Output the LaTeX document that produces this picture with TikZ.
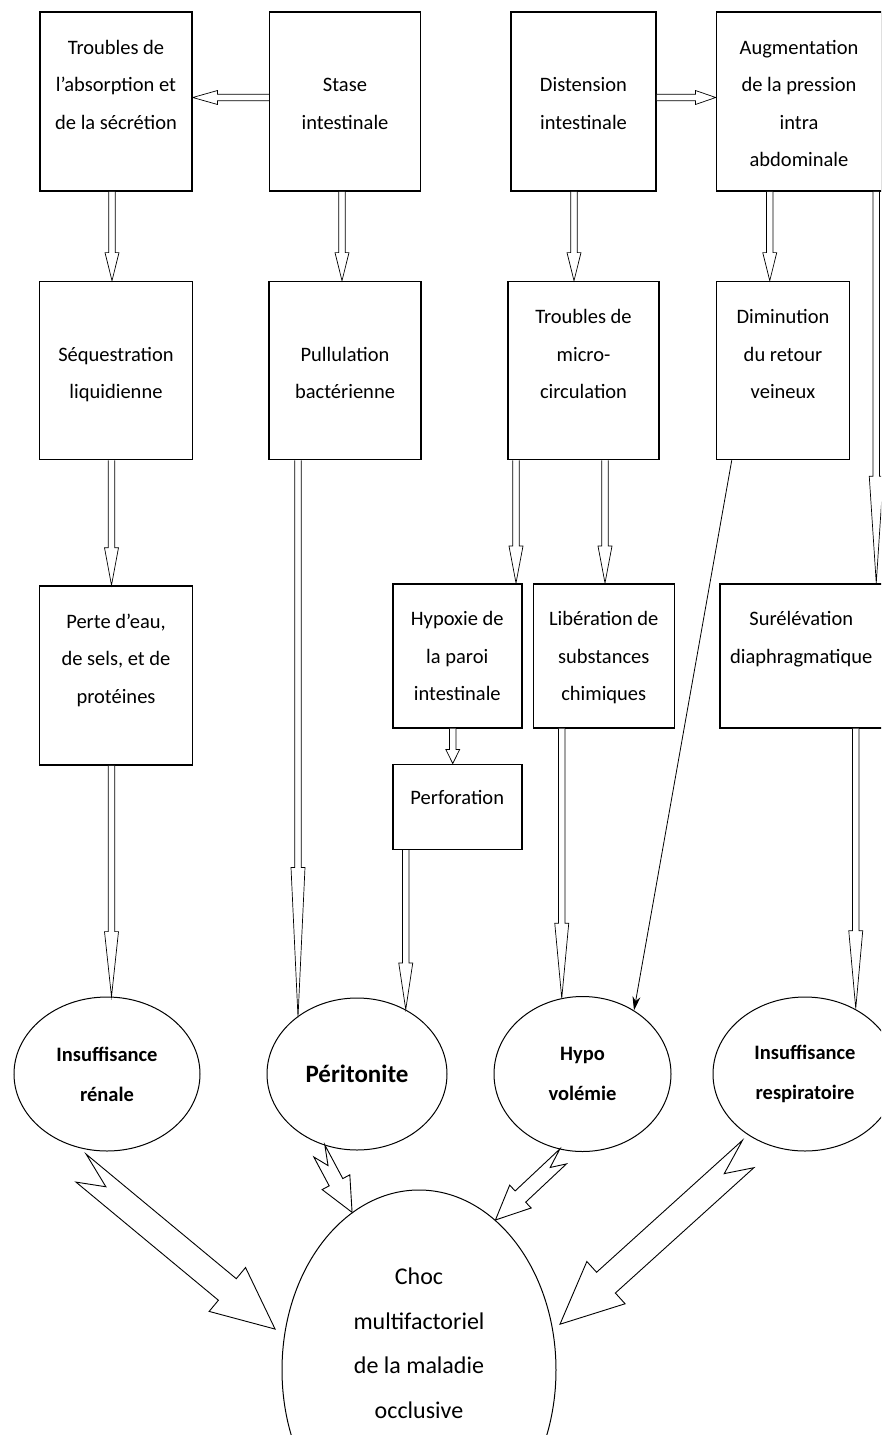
\documentclass[tikz,border=0pt]{standalone}
\usepackage{fontspec}
\setmainfont{Carlito}
\usetikzlibrary{arrows.meta,positioning,calc,shapes.geometric}

\tikzset{
  hol/.style={to path={let \p1=(\tikztostart), \p2=(\tikztotarget),
      \n1={atan2(\y2-\y1,\x2-\x1)}, \n2={veclen(\x2-\x1,\y2-\y1)}, \n3={0.74*\n2-5pt}
    in ($(\p1)+({\n1+90}:3.2pt)$) -- ($(\p1)+(\n1:\n3)+({\n1+90}:3.2pt)$)
    -- ($(\p1)+(\n1:\n3)+({\n1+90}:7pt)$) -- (\p2)
    -- ($(\p1)+(\n1:\n3)+({\n1-90}:7pt)$) -- ($(\p1)+(\n1:\n3)+({\n1-90}:3.2pt)$)
    -- ($(\p1)+({\n1-90}:3.2pt)$)}},
  zig/.style 2 args={to path={let \p1=(\tikztostart), \p2=(\tikztotarget),
      \n1={atan2(\y2-\y1,\x2-\x1)},
      \p3=($(\p1)+({\n1+(#1)}:{14pt*#2})$),
      \n2={veclen(\x2-\x3,\y2-\y3)}, \n4={atan2(\y2-\y3,\x2-\x3)},
      \n5={\n4+(#1)}, \n6={14pt*#2}, \n7={28.5pt*#2}, \n8={\n2-62pt*#2}
    in ($(\p3)+(\n5:-\n6)$)
    -- ($(\p3)+(\n4:{36pt*#2})+(\n5:{-1.5pt*#2})$)
    -- ($(\p3)+(\n4:{10pt*#2})+(\n5:\n6)$)
    -- ($(\p3)+(\n4:\n8)+(\n5:\n6)$)
    -- ($(\p3)+(\n4:\n8)+(\n5:\n7)$)
    -- (\p2)
    -- ($(\p3)+(\n4:\n8)+(\n5:-\n7)$)
    -- ($(\p3)+(\n4:\n8)+(\n5:-\n6)$)
    -- cycle}}
}

\begin{document}
\begin{tikzpicture}[>={Stealth[length=14pt,width=8pt]}, x=1pt, y=1pt,
    boite/.style={draw, line width=1.5pt, align=center, inner sep=0pt, text height=117pt,
      font=\fontsize{20.5}{37.5}\selectfont},
    bulle/.style={draw, ellipse, line width=1pt, inner sep=0pt, minimum height=154pt,
      align=center, font=\bfseries\fontsize{20.5}{40}\selectfont},
    creux/.style={draw, fill=white, line width=0.7pt},
    grosse/.style={draw, fill=white, line width=0.9pt, line join=miter}]
  \path[fill=white, use as bounding box] (0,0) rectangle (881,-1435);
  \clip (0,0) rectangle (881,-1435);

  \node[boite, minimum width=152pt, text depth=62pt] (absorp) at (116,-101.5) {Troubles de\\l’absorption et\\de la sécrétion};
  \node[boite, minimum width=151pt, text depth=62pt] (stase) [right=76pt of absorp] {Stase\\intestinale};
  \node[boite, minimum width=145pt, text depth=62pt] (dist) [right=89pt of stase] {Distension\\intestinale};
  \node[boite, minimum width=165pt, text height=154.5pt, text depth=24.5pt] (augm) [right=59pt of dist] {Augmentation\\de la pression\\intra\\abdominale};

  \node[boite, minimum width=153pt, text depth=61pt] (sequ) [below=89pt of absorp] {Séquestration\\liquidienne};
  \node[boite, minimum width=152pt, text depth=61pt] (pull) [below=89pt of stase] {Pullulation\\bactérienne};
  \node[boite, minimum width=151pt, text depth=61pt] (micro) [below=89pt of dist] {Troubles de\\micro-\\circulation};
  \node[boite, minimum width=133pt, text depth=61pt] (dimin) [below=89pt of augm.south west, anchor=north west] {Diminution\\du retour\\veineux};

  \node[boite, minimum width=153pt, text depth=62pt] (perte) [below=125pt of sequ] {Perte d’eau,\\de sels, et de\\protéines};
  \node[boite, minimum width=129pt, text depth=27pt, anchor=north west] (hypox) at (392,-583) {Hypoxie de\\la paroi\\intestinale};
  \node[boite, minimum width=141pt, text depth=27pt] (liber) [right=10pt of hypox] {Libération de\\substances\\chimiques};
  \node[boite, minimum width=163pt, text height=79.5pt, text depth=64.5pt] (surel) [right=44pt of liber] {Surélévation\\diaphragmatique};
  \node[boite, minimum width=129pt, text height=40pt, text depth=45pt] (perfo) [below=35pt of hypox] {Perforation};

  \node[bulle, minimum width=186pt] (ren) at (107,-1074) {Insuffisance\\rénale};
  \node[bulle, minimum width=180pt, minimum height=152pt, font=\bfseries\fontsize{25}{30}\selectfont] (perit) [right=66pt of ren] {Péritonite};
  \node[bulle, minimum width=177pt, minimum height=155pt] (hypo) [right=46pt of perit] {Hypo\\volémie};
  \node[bulle, minimum width=184pt] (resp) [right=41pt of hypo] {Insuffisance\\respiratoire};

  \node[draw, ellipse, line width=1pt, minimum width=274pt, minimum height=360pt] (choc) at (419,-1370) {};
  \node[align=center, font=\fontsize{24}{44.5}\selectfont] (choctexte) at (419,-1343) {Choc\\multifactoriel\\de la maladie\\occlusive};

  \path[creux]
    ([yshift=4pt]stase.west) to[hol] ([yshift=4pt]absorp.east)
    ([yshift=4pt]dist.east) to[hol] ([yshift=4pt]augm.west)
    ([xshift=-4pt]absorp.south) to[hol] ([xshift=-4pt]absorp.south |- sequ.north)
    ([xshift=-3pt]stase.south) to[hol] ([xshift=-3pt]stase.south |- pull.north)
    ([xshift=-9.5pt]dist.south) to[hol] ([xshift=-9.5pt]dist.south |- micro.north)
    ([xshift=54pt]augm.south west) to[hol] ([xshift=54pt]augm.south west |- dimin.north)
    ([xshift=-6pt]augm.south east) to[hol] ([xshift=-6pt]augm.south east |- surel.north)
    ([xshift=-4.5pt]sequ.south) to[hol] ([xshift=-4.5pt]sequ.south |- perte.north)
    ([xshift=-67.5pt]micro.south) to[hol] ([xshift=-67.5pt]micro.south |- hypox.north)
    ([xshift=21.5pt]micro.south) to[hol] ([xshift=21.5pt]micro.south |- liber.north)
    ([xshift=-4.5pt]hypox.south) to[hol] ([xshift=-4.5pt]hypox.south |- perfo.north)
    ([xshift=-4.5pt]perte.south) to[hol] ([xshift=-4.5pt]perte.south |- ren.86)
    ([xshift=-47pt]pull.south) to[hol] ([xshift=-47pt]pull.south |- perit.137)
    ([xshift=-51.5pt]perfo.south) to[hol] ([xshift=-51.5pt]perfo.south |- perit.53)
    ([xshift=-42pt]liber.south) to[hol] ([xshift=-42pt]liber.south |- hypo.106)
    ([xshift=54.5pt]surel.south) to[hol] ([xshift=54.5pt]surel.south |- resp.53);

  \draw[->, line width=0.8pt] ([xshift=16pt]dimin.south west) -- (hypo.51);

  \path[grosse]
    ([yshift=-5pt]ren.-105) to[zig={-90}{1}] ([xshift=-10pt]choc.163)
    (perit.-114) to[zig={-90}{.55}] (choc.113)
    (hypo.-107) to[zig={90}{.55}] (choc.63)
    ([yshift=-10pt]resp.-138) to[zig={90}{1}] ([xshift=8pt]choc.19);
\end{tikzpicture}
\end{document}
